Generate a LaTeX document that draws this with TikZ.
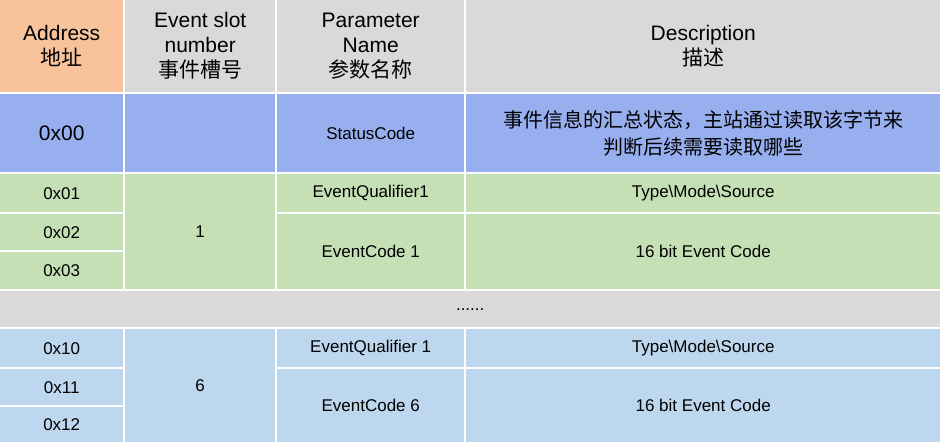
\documentclass[tikz,border=0pt]{standalone}
\usepackage{fontspec}
\setmainfont{Liberation Sans}
\newfontfamily\cjk{Noto Sans CJK SC}
\usetikzlibrary{positioning}
\definecolor{headgray}{HTML}{D9D9D9}
\definecolor{headorange}{HTML}{F8C39B}
\definecolor{rowblue}{HTML}{98AFEF}
\definecolor{rowgreen}{HTML}{C6E0B5}
\definecolor{rowlight}{HTML}{BDD7EE}
\begin{document}
\begin{tikzpicture}[x=1pt,y=-1pt]
\tikzstyle{cell}=[anchor=north west,inner sep=0pt,align=center,font=\fontsize{17}{20}\selectfont]
\tikzstyle{head}=[cell,fill=headgray,minimum height=92pt,font=\fontsize{21}{25}\selectfont]
\useasboundingbox (0,0) rectangle (940,442);
% header
\node[head,fill=headorange,minimum width=123pt] (h_addr) at (0,0) {Address\\{\cjk 地址}};
\node[head,minimum width=150pt] (h_slot) at (125,0) {Event slot\\number\\{\cjk 事件槽号}};
\node[head,minimum width=187pt] (h_name) at (277,0) {Parameter\\Name\\{\cjk 参数名称}};
\node[head,minimum width=474pt] (h_desc) at (466,0) {Description\\{\cjk 描述}};
% status row
\node[cell,fill=rowblue,minimum width=123pt,minimum height=78pt,font=\fontsize{21}{24}\selectfont] (a_00) at (0,94) {0x00};
\node[cell,fill=rowblue,minimum width=150pt,minimum height=78pt] (s_00) at (125,94) {};
\node[cell,fill=rowblue,minimum width=187pt,minimum height=78pt] (n_00) at (277,94) {StatusCode};
\node[cell,fill=rowblue,minimum width=474pt,minimum height=78pt,font=\fontsize{20}{27}\selectfont] (d_00) at (466,94) {{\cjk 事件信息的汇总状态，主站通过读取该字节来}\\{\cjk 判断后续需要读取哪些}};
% slot 1
\node[cell,fill=rowgreen,minimum width=123pt,minimum height=38pt] (a_01) at (0,174) {0x01};
\node[cell,fill=rowgreen,minimum width=123pt,minimum height=36pt] (a_02) at (0,214) {0x02};
\node[cell,fill=rowgreen,minimum width=123pt,minimum height=37pt] (a_03) at (0,252) {0x03};
\node[cell,fill=rowgreen,minimum width=150pt,minimum height=115pt] (s_1) at (125,174) {1};
\node[cell,fill=rowgreen,minimum width=187pt,minimum height=38pt] (n_q1) at (277,174) {EventQualifier1};
\node[cell,fill=rowgreen,minimum width=187pt,minimum height=75pt] (n_c1) at (277,214) {EventCode 1};
\node[cell,fill=rowgreen,minimum width=474pt,minimum height=38pt] (d_q1) at (466,174) {Type\textbackslash Mode\textbackslash Source};
\node[cell,fill=rowgreen,minimum width=474pt,minimum height=75pt] (d_c1) at (466,214) {16 bit Event Code};
% dots
\node[cell,fill=headgray,minimum width=940pt,minimum height=36pt] (dots) at (0,291) {......};
% slot 6
\node[cell,fill=rowlight,minimum width=123pt,minimum height=38pt] (a_10) at (0,329) {0x10};
\node[cell,fill=rowlight,minimum width=123pt,minimum height=36pt] (a_11) at (0,369) {0x11};
\node[cell,fill=rowlight,minimum width=123pt,minimum height=35pt] (a_12) at (0,407) {0x12};
\node[cell,fill=rowlight,minimum width=150pt,minimum height=113pt] (s_6) at (125,329) {6};
\node[cell,fill=rowlight,minimum width=187pt,minimum height=38pt] (n_q6) at (277,329) {EventQualifier 1};
\node[cell,fill=rowlight,minimum width=187pt,minimum height=73pt] (n_c6) at (277,369) {EventCode 6};
\node[cell,fill=rowlight,minimum width=474pt,minimum height=38pt] (d_q6) at (466,329) {Type\textbackslash Mode\textbackslash Source};
\node[cell,fill=rowlight,minimum width=474pt,minimum height=73pt] (d_c6) at (466,369) {16 bit Event Code};
\end{tikzpicture}
\end{document}
